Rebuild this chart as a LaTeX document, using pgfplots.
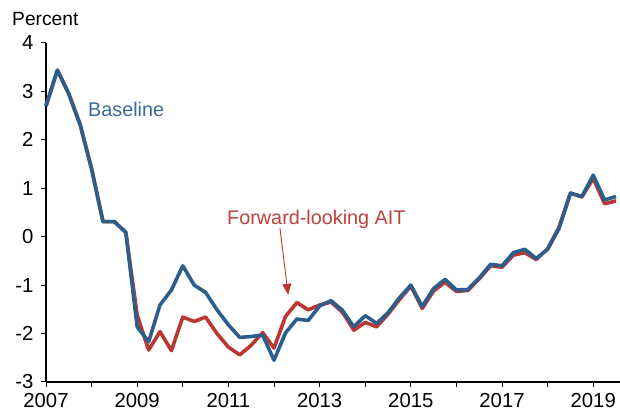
\documentclass[border=0pt]{standalone}
\usepackage{fontspec}
\setmainfont{Liberation Sans}
\usepackage{pgfplots}
\pgfplotsset{compat=1.18}
\usetikzlibrary{arrows.meta}
\definecolor{cblue}{RGB}{44,94,140}
\definecolor{cred}{RGB}{186,56,52}
\definecolor{tblue}{RGB}{58,106,156}
\definecolor{tred}{RGB}{192,64,60}
\begin{document}
\begin{tikzpicture}
\path[use as bounding box] (0,0) rectangle (620bp,420bp);
\begin{axis}[
  at={(46bp,38bp)}, anchor=south west,
  scale only axis, width=574.6bp, height=339bp,
  xmin=2007, xmax=2019.6, ymin=-3, ymax=4,
  axis lines=left, axis line style={-, line width=1.2bp},
  tick align=outside, major tick length=5bp,
  tick style={line width=1bp, black},
  xtick={2007,2008,...,2019},
  xticklabels={2007,,2009,,2011,,2013,,2015,,2017,,2019},
  ytick={-3,-2,...,4},
  /pgf/number format/assume math mode=true,
  /pgf/number format/1000 sep={},
  ticklabel style={font=\fontsize{20.3bp}{23bp}\selectfont},
  xticklabel style={yshift=-3bp},
  yticklabel style={xshift=-4bp},
  clip=false,
]
\addplot[cred, line width=3.6bp, line join=round] coordinates {
(2007.00,2.70) (2007.25,3.44) (2007.50,2.95) (2007.75,2.31) (2008.00,1.40)
(2008.25,0.31) (2008.50,0.31) (2008.75,0.09) (2009.00,-1.62) (2009.25,-2.34)
(2009.50,-1.96) (2009.75,-2.35) (2010.00,-1.66) (2010.25,-1.75) (2010.50,-1.66)
(2010.75,-2.00) (2011.00,-2.28) (2011.25,-2.44) (2011.50,-2.24) (2011.75,-1.98)
(2012.00,-2.30) (2012.25,-1.65) (2012.50,-1.36) (2012.75,-1.51) (2013.00,-1.41)
(2013.25,-1.35) (2013.50,-1.56) (2013.75,-1.93) (2014.00,-1.77) (2014.25,-1.86)
(2014.50,-1.60) (2014.75,-1.30) (2015.00,-1.02) (2015.25,-1.48) (2015.50,-1.12)
(2015.75,-0.94) (2016.00,-1.13) (2016.25,-1.11) (2016.50,-0.87) (2016.75,-0.60)
(2017.00,-0.63) (2017.25,-0.38) (2017.50,-0.33) (2017.75,-0.47) (2018.00,-0.25)
(2018.25,0.20) (2018.50,0.90) (2018.75,0.82) (2019.00,1.20) (2019.25,0.68)
(2019.50,0.74)
};
\addplot[cblue, line width=3.6bp, line join=round] coordinates {
(2007.00,2.70) (2007.25,3.44) (2007.50,2.95) (2007.75,2.31) (2008.00,1.40)
(2008.25,0.31) (2008.50,0.31) (2008.75,0.09) (2009.00,-1.86) (2009.25,-2.17)
(2009.50,-1.41) (2009.75,-1.10) (2010.00,-0.60) (2010.25,-1.00) (2010.50,-1.15)
(2010.75,-1.51) (2011.00,-1.82) (2011.25,-2.08) (2011.50,-2.06) (2011.75,-2.03)
(2012.00,-2.55) (2012.25,-1.99) (2012.50,-1.70) (2012.75,-1.73) (2013.00,-1.43)
(2013.25,-1.32) (2013.50,-1.52) (2013.75,-1.86) (2014.00,-1.63) (2014.25,-1.79)
(2014.50,-1.57) (2014.75,-1.26) (2015.00,-1.00) (2015.25,-1.44) (2015.50,-1.07)
(2015.75,-0.88) (2016.00,-1.10) (2016.25,-1.09) (2016.50,-0.85) (2016.75,-0.57)
(2017.00,-0.60) (2017.25,-0.33) (2017.50,-0.26) (2017.75,-0.45) (2018.00,-0.26)
(2018.25,0.17) (2018.50,0.90) (2018.75,0.83) (2019.00,1.27) (2019.25,0.76)
(2019.50,0.83)
};
\node[anchor=base west, text=tblue, inner sep=0pt, font=\fontsize{19.8bp}{22bp}\selectfont] at (axis cs:2007.92,2.49) {Baseline};
\node[anchor=base west, text=tred, inner sep=0pt, font=\fontsize{19.8bp}{22bp}\selectfont] at (axis cs:2010.97,0.26) {Forward-looking AIT};
\draw[cred, line width=0.9bp, -{Triangle[length=11bp,width=9bp]}] (axis cs:2012.13,0.18) -- (axis cs:2012.31,-1.20);
\end{axis}
\node[anchor=base west, inner sep=0pt, font=\fontsize{19.2bp}{22bp}\selectfont] at (12bp,394bp) {Percent};
\end{tikzpicture}
\end{document}
